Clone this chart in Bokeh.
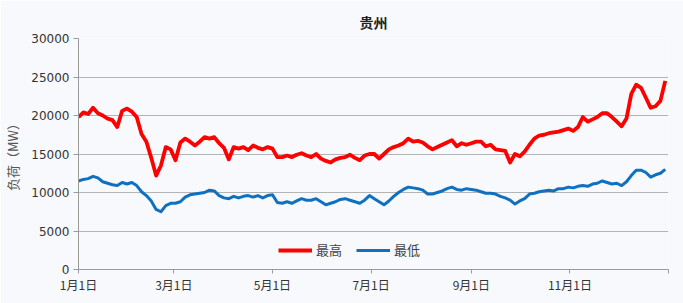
from bokeh.plotting import figure
from bokeh.models import FixedTicker, Legend, LegendItem
from bokeh.embed import file_html
from bokeh.resources import INLINE

title_text = "贵州"
y_label = "负荷（MW）"
series_names = ["最高", "最低"]
tick_days = [0, 59, 120, 181, 243, 304, 365]
tick_labels = ["1月1日", "3月1日", "5月1日", "7月1日", "9月1日", "11月1日", ""]
step_days = 3

high = [19.8, 20.4, 20.2, 21.0, 20.3, 20.0, 19.6, 19.4, 18.5, 20.6,
        20.9, 20.5, 19.8, 17.6, 16.6, 14.5, 12.2, 13.5, 15.9, 15.6,
        14.2, 16.5, 17.0, 16.6, 16.1, 16.6, 17.2, 17.0, 17.2, 16.4,
        15.8, 14.3, 15.9, 15.7, 15.9, 15.5, 16.1, 15.8, 15.6, 15.9,
        15.7, 14.6, 14.6, 14.8, 14.6, 14.9, 15.1, 14.8, 14.6, 15.0,
        14.4, 14.1, 13.9, 14.3, 14.5, 14.6, 14.9, 14.5, 14.2, 14.8,
        15.0, 15.0, 14.4, 15.0, 15.6, 15.9, 16.1, 16.4, 17.0, 16.6,
        16.7, 16.5, 16.0, 15.6, 15.9, 16.2, 16.5, 16.8, 16.0, 16.4,
        16.2, 16.4, 16.6, 16.6, 16.0, 16.2, 15.6, 15.5, 15.4, 13.9,
        15.0, 14.7, 15.3, 16.2, 17.0, 17.4, 17.5, 17.7, 17.8, 17.9,
        18.1, 18.3, 18.0, 18.5, 19.8, 19.2, 19.5, 19.8, 20.3, 20.3,
        19.8, 19.2, 18.6, 19.6, 22.8, 24.0, 23.6, 22.3, 21.0, 21.2,
        21.9, 24.5]

low = [11.5, 11.7, 11.8, 12.1, 11.9, 11.4, 11.2, 11.0, 10.9, 11.3,
       11.1, 11.3, 10.9, 10.1, 9.6, 8.9, 7.8, 7.5, 8.3, 8.6,
       8.6, 8.8, 9.4, 9.7, 9.8, 9.9, 10.0, 10.3, 10.2, 9.6,
       9.3, 9.2, 9.5, 9.3, 9.5, 9.6, 9.4, 9.6, 9.3, 9.6,
       9.7, 8.7, 8.6, 8.8, 8.6, 8.9, 9.2, 9.0, 9.0, 9.2,
       8.8, 8.4, 8.6, 8.8, 9.1, 9.2, 9.0, 8.8, 8.6, 9.0,
       9.6, 9.2, 8.8, 8.4, 8.9, 9.5, 10.0, 10.4, 10.7, 10.6,
       10.5, 10.3, 9.8, 9.8, 10.0, 10.2, 10.5, 10.7, 10.4, 10.3,
       10.5, 10.4, 10.3, 10.1, 9.9, 9.9, 9.8, 9.5, 9.3, 9.0,
       8.5, 8.9, 9.2, 9.8, 9.9, 10.1, 10.2, 10.3, 10.2, 10.5,
       10.5, 10.7, 10.6, 10.8, 10.9, 10.8, 11.1, 11.2, 11.5, 11.3,
       11.1, 11.2, 10.9, 11.4, 12.2, 12.9, 12.9, 12.6, 12.0, 12.3,
       12.5, 13.0]

days_h = [step_days * i for i in range(len(high))]
days_l = [step_days * i for i in range(len(low))]
high_mw = [v * 1000 for v in high]
low_mw = [v * 1000 for v in low]

BG = "#f8f9fc"
p = figure(width=683, height=303, output_backend="svg", toolbar_location=None,
           x_range=(0, 365), y_range=(0, 30000),
           background_fill_color=BG, border_fill_color=BG,
           min_border_left=76, min_border_right=15, min_border_top=38,
           min_border_bottom=34)
p.outline_line_color = None

p.title.text = title_text
p.title.align = "center"
p.title.text_font = "Noto Sans CJK SC"
p.title.text_font_size = "14px"
p.title.text_font_style = "bold"
p.title.text_color = "#222222"
p.title.standoff = 14

r1 = p.line(days_h, high_mw, line_color="#ff0000", line_width=3.8, line_join="round")
r2 = p.line(days_l, low_mw, line_color="#0f70c0", line_width=3.0, line_join="round")

p.xgrid.visible = False
p.ygrid.grid_line_color = "#b4b4b4"
p.ygrid.grid_line_width = 1

p.yaxis.ticker = FixedTicker(ticks=[0, 5000, 10000, 15000, 20000, 25000, 30000])
p.yaxis.major_label_text_font = "DejaVu Sans"
p.yaxis.major_label_text_font_size = "12px"
p.yaxis.major_label_text_color = "#333333"
p.yaxis.axis_line_color = "#9a9a9a"
p.yaxis.major_tick_line_color = "#9a9a9a"
p.yaxis.major_tick_in = 0
p.yaxis.major_tick_out = 5
p.yaxis.minor_tick_line_color = None
p.yaxis.major_label_standoff = 4
p.yaxis.axis_label = y_label
p.yaxis.axis_label_text_font = "Noto Sans CJK SC"
p.yaxis.axis_label_text_font_size = "13px"
p.yaxis.axis_label_text_font_style = "normal"
p.yaxis.axis_label_text_color = "#555555"
p.yaxis.axis_label_standoff = 6

p.xaxis.ticker = FixedTicker(ticks=tick_days)
p.xaxis.major_label_overrides = {d: l for d, l in zip(tick_days, tick_labels)}
p.xaxis.major_label_text_font = "Noto Sans CJK SC"
p.xaxis.major_label_text_font_size = "12px"
p.xaxis.major_label_text_color = "#333333"
p.xaxis.axis_line_color = "#9a9a9a"
p.xaxis.major_tick_line_color = "#9a9a9a"
p.xaxis.major_tick_in = 0
p.xaxis.major_tick_out = 4
p.xaxis.minor_tick_line_color = None
p.xaxis.major_label_standoff = 2

legend = Legend(items=[LegendItem(label=series_names[0], renderers=[r1]),
                       LegendItem(label=series_names[1], renderers=[r2])],
                orientation="horizontal", location=(200, 10),
                background_fill_alpha=0, border_line_color=None,
                label_text_font="Noto Sans CJK SC", label_text_font_size="13px",
                label_text_color="#444444", glyph_width=34, glyph_height=14,
                spacing=14, label_standoff=4, padding=2, margin=0)
p.add_layout(legend)

open("out.html", "w").write(file_html(p, INLINE))
